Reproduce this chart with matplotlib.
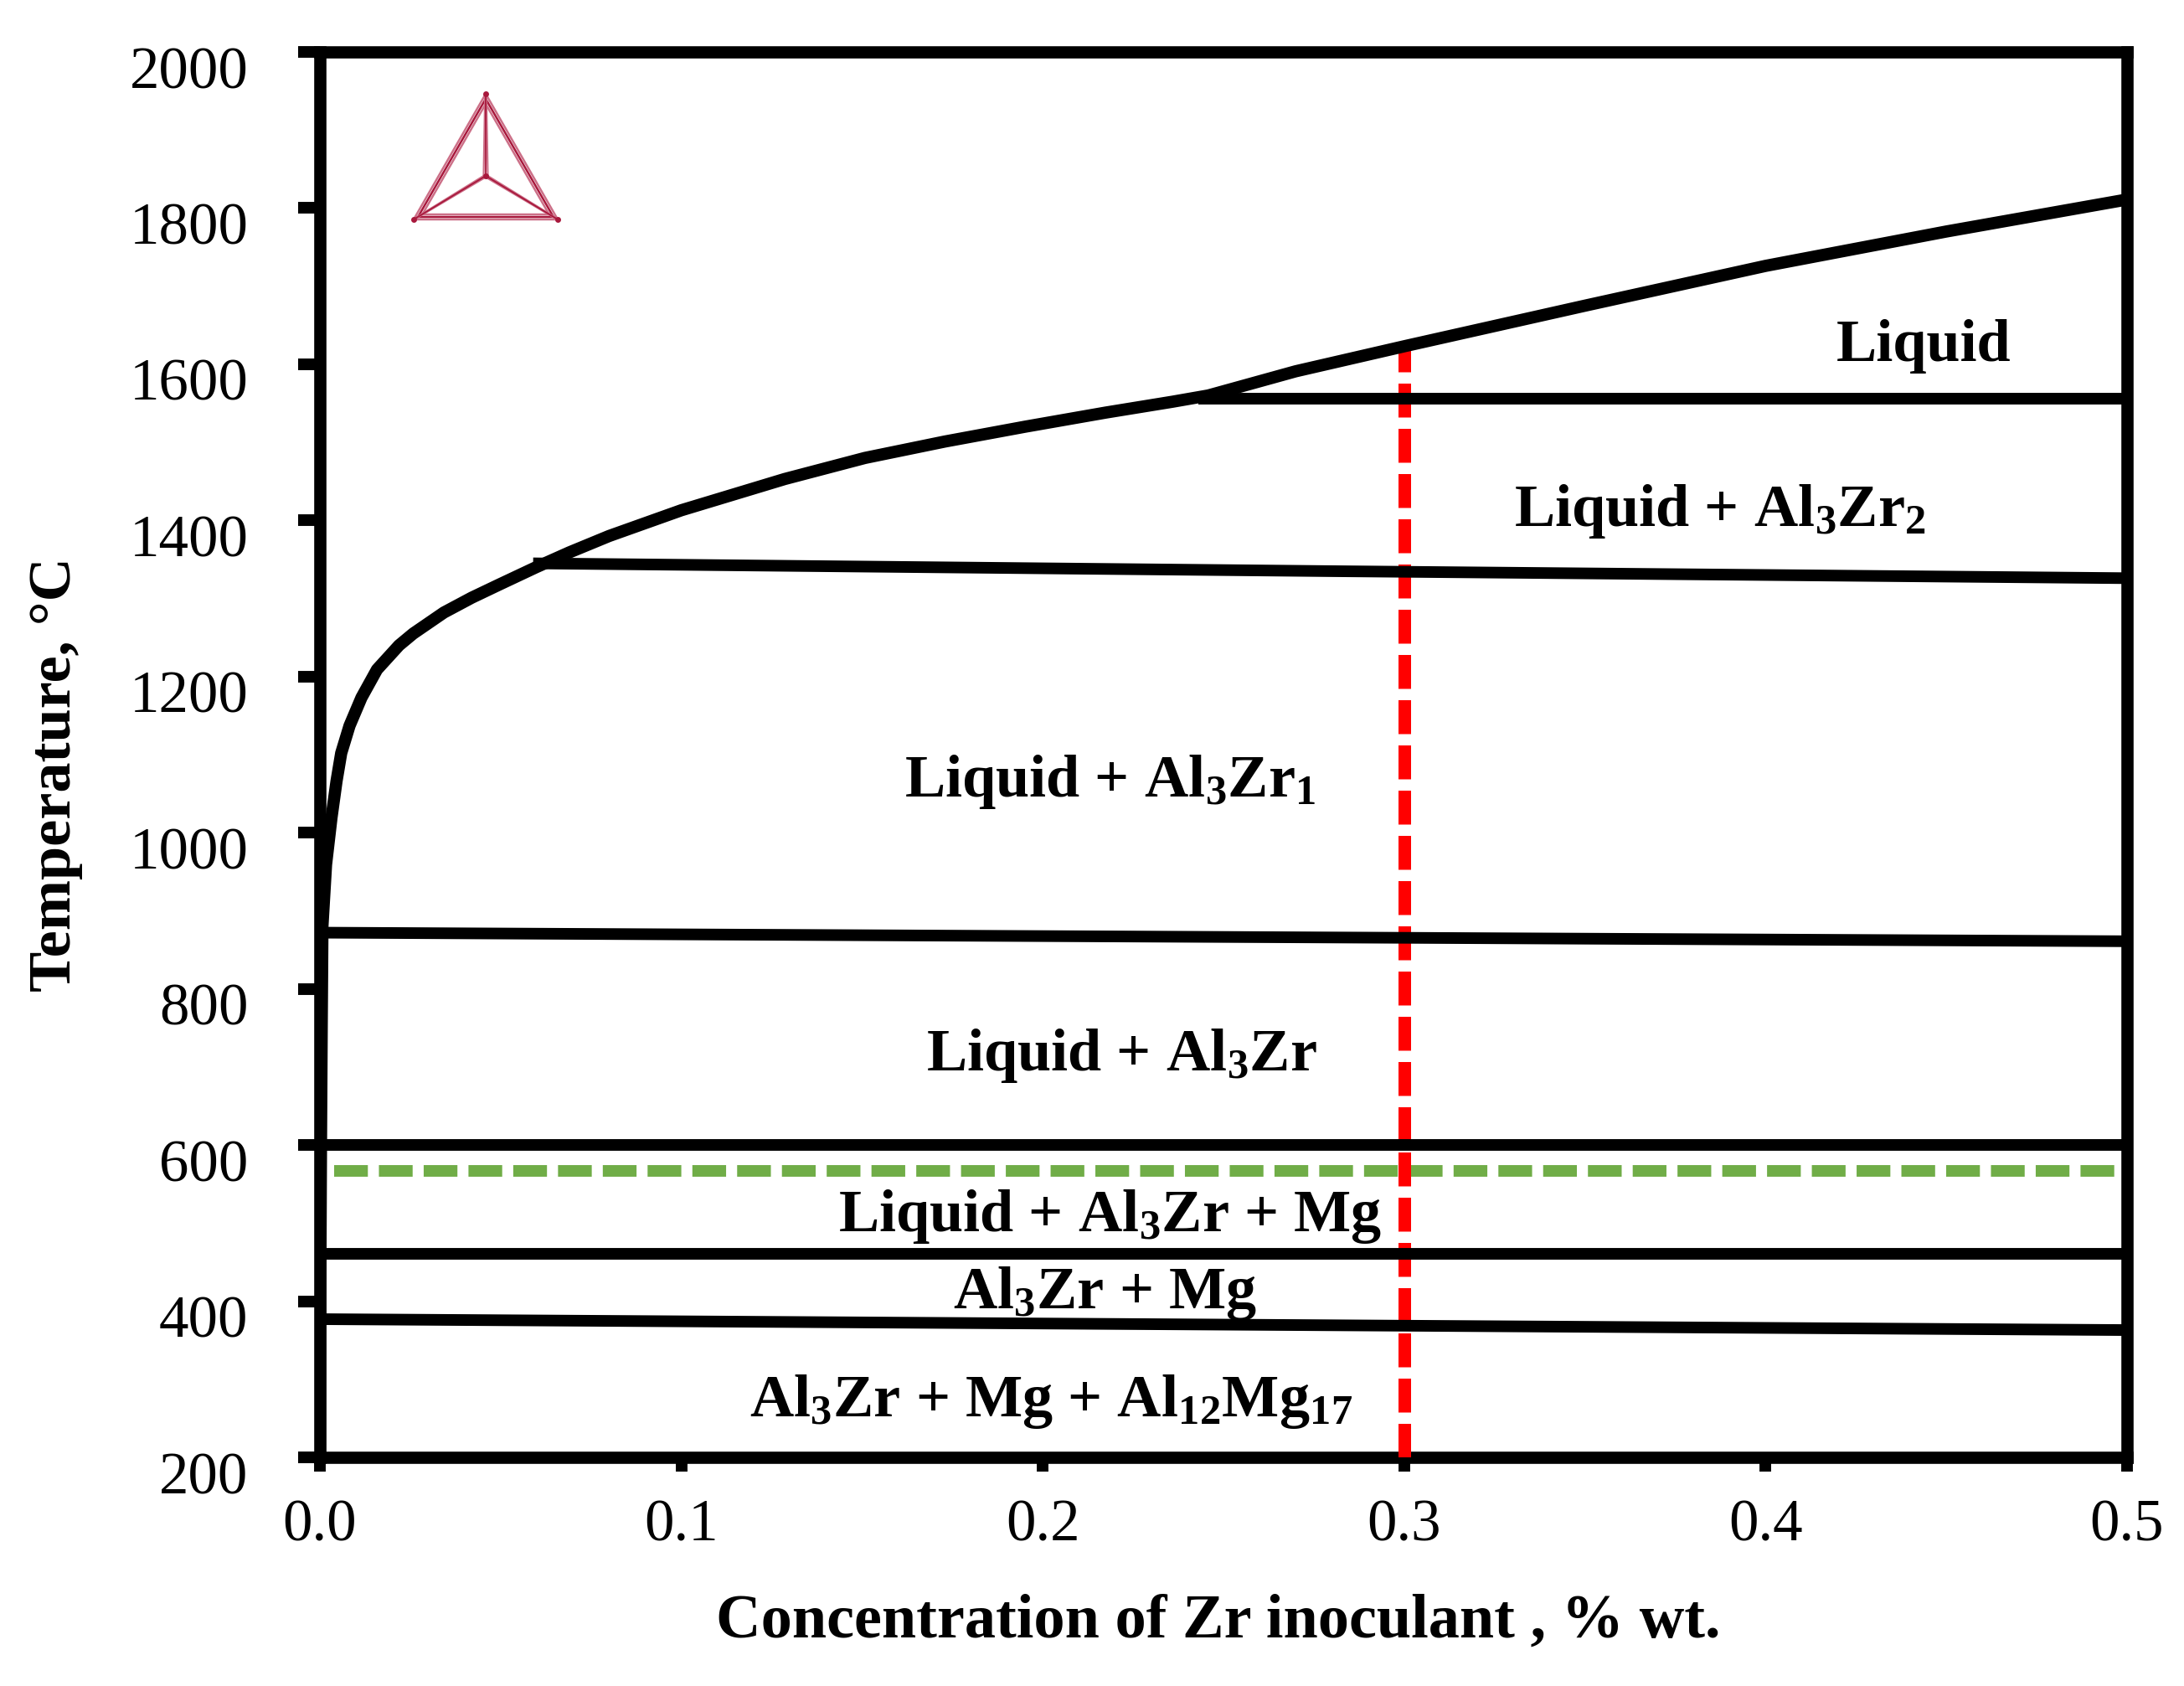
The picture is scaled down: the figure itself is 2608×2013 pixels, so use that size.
import matplotlib
matplotlib.use('Agg')
import matplotlib.pyplot as plt
import matplotlib.transforms as mtransforms

plt.rcParams['font.family'] = ['Liberation Serif', 'DejaVu Serif']
plt.rcParams['mathtext.fontset'] = 'custom'
plt.rcParams['mathtext.rm'] = 'Liberation Serif:bold'
plt.rcParams['mathtext.it'] = 'Liberation Serif:bold'
plt.rcParams['mathtext.bf'] = 'Liberation Serif:bold'
plt.rcParams['mathtext.default'] = 'regular'

# ---------------- data ----------------
# liquidus (Liquid / Liquid + Al3Zr... boundary)
liquidus_x = [0.0, 0.0001, 0.0003, 0.0005, 0.0007, 0.0017, 0.0032, 0.0046, 0.0059,
              0.0082, 0.0115, 0.0158, 0.0219, 0.0258, 0.0343, 0.042, 0.0497, 0.0598,
              0.069, 0.08, 0.1, 0.1286, 0.1508, 0.1729, 0.1951, 0.2173, 0.2359,
              0.2458, 0.27, 0.3, 0.35, 0.4, 0.45, 0.5]
liquidus_T = [200, 400, 600, 750, 880, 959, 1019, 1066, 1102,
              1137, 1173, 1209, 1240, 1255, 1282, 1301, 1318, 1340,
              1359, 1380, 1413, 1453, 1480, 1501, 1520, 1538, 1552,
              1560, 1591, 1623, 1675, 1726, 1770, 1811]

# horizontal phase boundaries
al3zr2_x = [0.243, 0.5]
al3zr2_T = [1556, 1556]
al3zr1_x = [0.059, 0.28, 0.5]
al3zr1_T = [1345, 1335, 1326]
al3zr_x = [0.0, 0.5]
al3zr_T = [872, 861]
mg_x = [0.0, 0.5]
mg_T = [600, 600]
liq_end_x = [0.0, 0.5]
liq_end_T = [461, 461]
al12mg17_x = [0.0, 0.5]
al12mg17_T = [377, 363]

# reference lines
green_x = [0.004, 0.5]
green_T = [567, 567]
red_x = [0.3, 0.3]
red_T = [200, 1623]

# region labels: (text, x, T_baseline)
region_text = ['Liquid',
               'Liquid + Al$_3$Zr$_2$',
               'Liquid + Al$_3$Zr$_1$',
               'Liquid + Al$_3$Zr',
               'Liquid + Al$_3$Zr + Mg',
               'Al$_3$Zr + Mg',
               'Al$_3$Zr + Mg + Al$_{12}$Mg$_{17}$']
region_x = [0.4437, 0.3874, 0.2186, 0.2217, 0.2186, 0.2173, 0.2023]
region_T = [1604, 1393, 1046, 696, 490, 391, 253]

x_ticks = [0.0, 0.1, 0.2, 0.3, 0.4, 0.5]
x_ticklabels = ['0.0', '0.1', '0.2', '0.3', '0.4', '0.5']
y_ticks = [200, 400, 600, 800, 1000, 1200, 1400, 1600, 1800, 2000]
y_ticklabels = [str(v) for v in y_ticks]

# ---------------- figure ----------------
W, H = 2608, 2013
fig = plt.figure(figsize=(W / 100, H / 100), dpi=100)
L, R, T, B = 382, 2540, 62, 1740
ax = fig.add_axes([L / W, 1 - B / H, (R - L) / W, (B - T) / H])

ax.set_xlim(0, 0.5)
ax.set_ylim(200, 2000)

blk = dict(color='black', lw=10, solid_capstyle='butt', zorder=4)
ax.plot(liquidus_x, liquidus_T, color='black', lw=10.5, solid_joinstyle='round', zorder=4)
ax.plot(al3zr2_x, al3zr2_T, **blk)
ax.plot(al3zr1_x, al3zr1_T, **blk)
ax.plot(al3zr_x, al3zr_T, **blk)
ax.plot(mg_x, mg_T, **blk)
ax.plot(liq_end_x, liq_end_T, **blk)
ax.plot(al12mg17_x, al12mg17_T, **blk)

ax.plot(green_x, green_T, color='#70AD47', lw=10, dashes=(2.9, 0.95),
        dash_capstyle='butt', zorder=2)
ax.plot(red_x, red_T, color='#FF0000', lw=10.8, dashes=(2.7, 0.9),
        dash_capstyle='butt', zorder=3)

for s, xx, tt in zip(region_text, region_x, region_T):
    ax.text(xx, tt, s, ha='center', va='baseline', fontsize=52,
            fontweight='bold', zorder=5)

for sp in ax.spines.values():
    sp.set_linewidth(10.5)
    sp.set_color('black')

ax.set_xticks(x_ticks)
ax.set_xticklabels(x_ticklabels)
ax.set_yticks(y_ticks)
ax.set_yticklabels(y_ticklabels)
ax.tick_params(axis='both', which='major', direction='out', width=10,
               labelsize=51, colors='black')
ax.tick_params(axis='y', length=18.5, pad=43, right=False)
ax.tick_params(axis='x', length=12, pad=24, top=False)

off = mtransforms.ScaledTranslation(0, -18 / 100, fig.dpi_scale_trans)
for lab in ax.get_yticklabels():
    lab.set_transform(lab.get_transform() + off)

ax.set_xlabel('Concentration of Zr inoculant , % wt.', fontsize=53.5, fontweight='bold')
ax.xaxis.set_label_coords(0.497, -0.097)
ax.set_ylabel('Temperature, °C', fontsize=52, fontweight='bold')
ax.yaxis.set_label_coords(-0.146, 0.486)
ax.yaxis.label.set_va('center')

# ---------------- logo (decoration) ----------------
lg = fig.add_axes([480 / W, 1 - 280 / H, 200 / W, 180 / H])
lg.set_xlim(480, 680)
lg.set_ylim(280, 100)
lg.axis('off')
A = (580, 112)
BLp = (494, 262)
BRp = (666, 262)
C = (580, 210)
G = ((A[0] + BLp[0] + BRp[0]) / 3, (A[1] + BLp[1] + BRp[1]) / 3)
light = '#CC7088'
dark = '#A8183C'
for k, col in zip([1.0, 0.94, 0.88], [light, dark, light]):
    pts = [A, BLp, BRp, A]
    xs = [G[0] + k * (p[0] - G[0]) for p in pts]
    ys = [G[1] + k * (p[1] - G[1]) for p in pts]
    lg.plot(xs, ys, color=col, lw=1.8, solid_joinstyle='miter')
for p in (A, BLp, BRp):
    for d in (-2.5, 2.5):
        lg.plot([C[0] + d, p[0] + d * 0.3], [C[1], p[1]], color=light, lw=1.6)
    lg.plot([C[0], p[0]], [C[1], p[1]], color=dark, lw=1.3)
lg.plot([A[0], C[0], BLp[0], BRp[0]], [A[1], C[1], BLp[1], BRp[1]], 'o',
        color=dark, ms=5, mew=0)

fig.savefig('out.png', dpi=100, facecolor='white')
